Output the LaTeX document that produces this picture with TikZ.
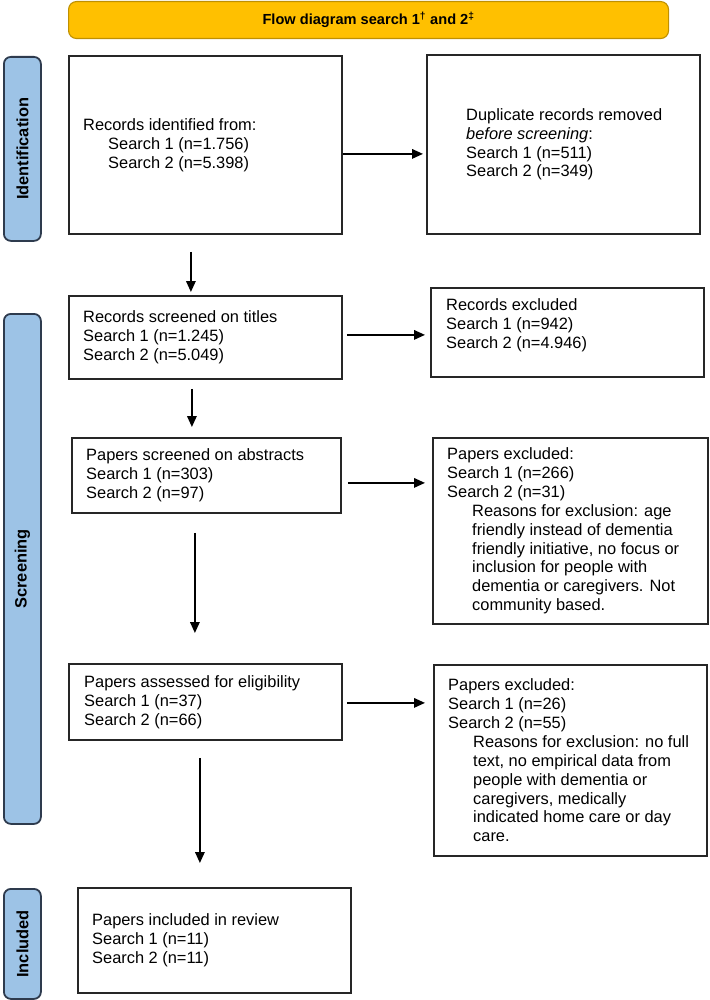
\documentclass[tikz,border=0pt]{standalone}
\usepackage{fontspec}
\setmainfont{Liberation Sans}
\usetikzlibrary{arrows.meta}

\definecolor{phasefill}{HTML}{9DC3E6}
\definecolor{phaseline}{HTML}{2E3B4E}
\definecolor{titlefill}{HTML}{FFC000}
\definecolor{titleline}{HTML}{BF9000}
\newcommand\bodyfont{\fontsize{16.4}{18.9}\selectfont}
\newcommand\ind{\hspace*{25pt}}

\tikzset{
  flowbox/.style={draw=black!85, line width=1.8pt, anchor=north west, inner sep=0pt},
  boxtext/.style={anchor=west, align=left, inner sep=0pt, font=\bodyfont},
  phase/.style={draw=phaseline, fill=phasefill, line width=1.8pt, rounded corners=7pt,
    anchor=north west, inner sep=0pt, minimum width=37pt},
  phasetext/.style={rotate=90, inner sep=0pt, font=\bodyfont\bfseries},
  flowarrow/.style={-{Triangle[length=11pt,width=9.5pt]}, line width=1.7pt},
}

\begin{document}
\begin{tikzpicture}[x=1pt, y=-1pt]
  \useasboundingbox (0,0) rectangle (709,1000);

  % title bar
  \node[draw=titleline, fill=titlefill, line width=1.1pt, rounded corners=8pt,
        anchor=north west, minimum width=600pt, minimum height=37pt,
        font=\fontsize{14.6}{17}\selectfont\bfseries] (title) at (68,1)
        {Flow diagram search 1\textsuperscript{†} and 2\textsuperscript{‡}};

  % phases on the left
  \node[phase, minimum height=184pt] (idph) at (3,56) {};
  \node[phase, minimum height=510pt] (scrph) at (3,313) {};
  \node[phase, minimum height=110pt] (incph) at (3,888) {};
  \node[phasetext] (idlbl) at (idph.center) {Identification};
  \node[phasetext] (scrlbl) at (scrph.center) {Screening};
  \node[phasetext] (inclbl) at (incph.center) {Included};

  % boxes
  \node[flowbox, minimum width=273pt, minimum height=178pt] (id) at (68,55) {};
  \node[flowbox, minimum width=273pt, minimum height=179pt] (dup) at (426,54) {};
  \node[flowbox, minimum width=273pt, minimum height=83pt] (scr) at (68,295) {};
  \node[flowbox, minimum width=273pt, minimum height=89pt] (rexc) at (430,287) {};
  \node[flowbox, minimum width=269pt, minimum height=75pt] (abs) at (71,437) {};
  \node[flowbox, minimum width=275pt, minimum height=186pt] (pexca) at (432,437) {};
  \node[flowbox, minimum width=273pt, minimum height=76pt] (elig) at (68,663) {};
  \node[flowbox, minimum width=273pt, minimum height=191pt] (pexcb) at (433,664) {};
  \node[flowbox, minimum width=273pt, minimum height=105pt] (inc) at (77,887) {};

  % texts in the boxes
  \node[boxtext] (idtxt) at ([xshift=15pt]id.west)
    {Records identified from:\\ \ind Search 1 (n=1.756)\\ \ind Search 2 (n=5.398)};
  \node[boxtext] (duptxt) at ([xshift=40pt]dup.west)
    {Duplicate records removed\\ \textit{before screening}:\\ Search 1 (n=511)\\ Search 2 (n=349)};
  \node[boxtext] (scrtxt) at ([xshift=15pt]scr.west)
    {Records screened on titles\\ Search 1 (n=1.245)\\ Search 2 (n=5.049)};
  \node[boxtext] (rexctxt) at ([xshift=16pt, yshift=7.5pt]rexc.west)
    {Records excluded\\ Search 1 (n=942)\\ Search 2 (n=4.946)};
  \node[boxtext] (abstxt) at ([xshift=15pt]abs.west)
    {Papers screened on abstracts\\ Search 1 (n=303)\\ Search 2 (n=97)};
  \node[boxtext] (pexcatxt) at ([xshift=15pt]pexca.west)
    {Papers excluded:\\ Search 1 (n=266)\\ Search 2 (n=31)\\
     \ind Reasons for exclusion: age\\ \ind friendly instead of dementia\\
     \ind friendly initiative, no focus or\\ \ind inclusion for people with\\
     \ind dementia or caregivers. Not\\ \ind community based.};
  \node[boxtext] (eligtxt) at ([xshift=16pt]elig.west)
    {Papers assessed for eligibility\\ Search 1 (n=37)\\ Search 2 (n=66)};
  \node[boxtext] (pexcbtxt) at ([xshift=15pt]pexcb.west)
    {Papers excluded:\\ Search 1 (n=26)\\ Search 2 (n=55)\\
     \ind Reasons for exclusion: no full\\ \ind text, no empirical data from\\
     \ind people with dementia or\\ \ind caregivers, medically\\
     \ind indicated home care or day\\ \ind care.};
  \node[boxtext] (inctxt) at ([xshift=15pt]inc.west)
    {Papers included in review\\ Search 1 (n=11)\\ Search 2 (n=11)};

  % arrows
  \draw[flowarrow, shorten >=3pt] ([yshift=-9pt]id.east) -- ([yshift=-9pt]id.east -| dup.west);
  \draw[flowarrow, shorten <=17pt, shorten >=3pt] ([xshift=-14.5pt]id.south) -- ([xshift=-14.5pt]id.south |- scr.north);
  \draw[flowarrow, shorten <=4pt, shorten >=5pt] ([yshift=2.5pt]scr.east) -- ([yshift=2.5pt]scr.east -| rexc.west);
  \draw[flowarrow, shorten <=9pt, shorten >=10pt] ([xshift=-13.5pt]scr.south) -- ([xshift=-13.5pt]scr.south |- abs.north);
  \draw[flowarrow, shorten <=6pt, shorten >=7pt] ([yshift=-7.5pt]abs.east) -- ([yshift=-7.5pt]abs.east -| pexca.west);
  \draw[flowarrow, shorten <=19pt, shorten >=30pt] ([xshift=-11.5pt]abs.south) -- ([xshift=-11.5pt]abs.south |- elig.north);
  \draw[flowarrow, shorten <=4pt, shorten >=8pt] ([yshift=-1pt]elig.east) -- ([yshift=-1pt]elig.east -| pexcb.west);
  \draw[flowarrow, shorten <=17pt, shorten >=24pt] ([xshift=-5.5pt]elig.south) -- ([xshift=-5.5pt]elig.south |- inc.north);
\end{tikzpicture}
\end{document}
